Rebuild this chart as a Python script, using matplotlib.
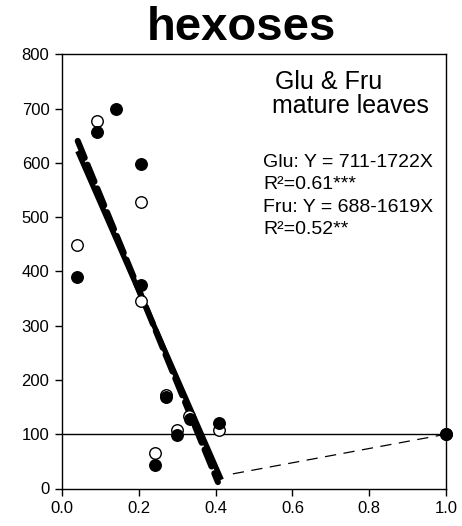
import matplotlib
matplotlib.use("Agg")
import matplotlib.pyplot as plt
import numpy as np

plt.rcParams['font.family'] = ['Liberation Sans', 'DejaVu Sans']

# Data
glu_x = [0.039, 0.092, 0.141, 0.207, 0.206, 0.270, 0.243, 0.300, 0.333, 0.409, 1.0]
glu_y = [390, 657, 699, 597, 375, 168, 44, 98, 128, 121, 100]
fru_x = [0.039, 0.092, 0.207, 0.206, 0.270, 0.243, 0.300, 0.330, 0.409, 1.0]
fru_y = [448, 677, 527, 346, 172, 66, 107, 133, 108, 100]

glu_a, glu_b = 711, -1722
fru_a, fru_b = 688, -1619
glu_fit_x = [0.041, 0.406]
fru_fit_x = [0.041, 0.415]
link_x = [0.445, 1.0]
link_y = [27, 100]
ref_y = 100

xticks = [0.0, 0.2, 0.4, 0.6, 0.8, 1.0]
yticks = [0, 100, 200, 300, 400, 500, 600, 700, 800]

W, H = 462, 526
fig = plt.figure(figsize=(W / 100, H / 100), dpi=100)
ax = fig.add_axes([62 / W, 1 - 488.5 / H, (446 - 62) / W, (488.5 - 54.3) / H])

ax.axhline(ref_y, color='black', lw=1.0, zorder=1)
ax.plot(link_x, link_y, color='black', lw=0.9, dashes=(9, 6), zorder=1)

fx = np.array(fru_fit_x)
ax.plot(fx, fru_a + fru_b * fx, color='black', lw=3.8, solid_capstyle='butt', zorder=2)
gx = np.array(glu_fit_x)
ax.plot(gx, glu_a + glu_b * gx, color='black', lw=4.4, dashes=(3, 1.2),
        dash_capstyle='round', zorder=2)

ax.plot(fru_x, fru_y, 'o', ms=8.3, mfc='white', mec='black', mew=1.0, zorder=3, clip_on=False)
ax.plot(glu_x, glu_y, 'o', ms=8.3, mfc='black', mec='black', mew=1.0, zorder=4, clip_on=False)

ax.set_xlim(0, 1.0)
ax.set_ylim(0, 800)
ax.set_xticks(xticks)
ax.set_xticklabels([f"{v:.1f}" for v in xticks])
ax.set_yticks(yticks)
ax.set_yticklabels([str(v) for v in yticks])
ax.tick_params(direction='out', length=5, width=1, labelsize=12, pad=4)
for s in ax.spines.values():
    s.set_linewidth(1.0)

def ftext(x, y, s, **kw):
    fig.text(x / W, 1 - y / H, s, va='baseline', **kw)

ftext(241, 40, 'hexoses', fontsize=34, fontweight='bold', ha='center')
ftext(275, 89, 'Glu & Fru', fontsize=18)
ftext(272, 113, 'mature leaves', fontsize=18)
ftext(263, 167, 'Glu: Y = 711-1722X', fontsize=14)
ftext(263, 189, 'R²=0.61***', fontsize=14)
ftext(263, 212, 'Fru: Y = 688-1619X', fontsize=14)
ftext(263, 234, 'R²=0.52**', fontsize=14)

fig.savefig('out.png', dpi=100)
